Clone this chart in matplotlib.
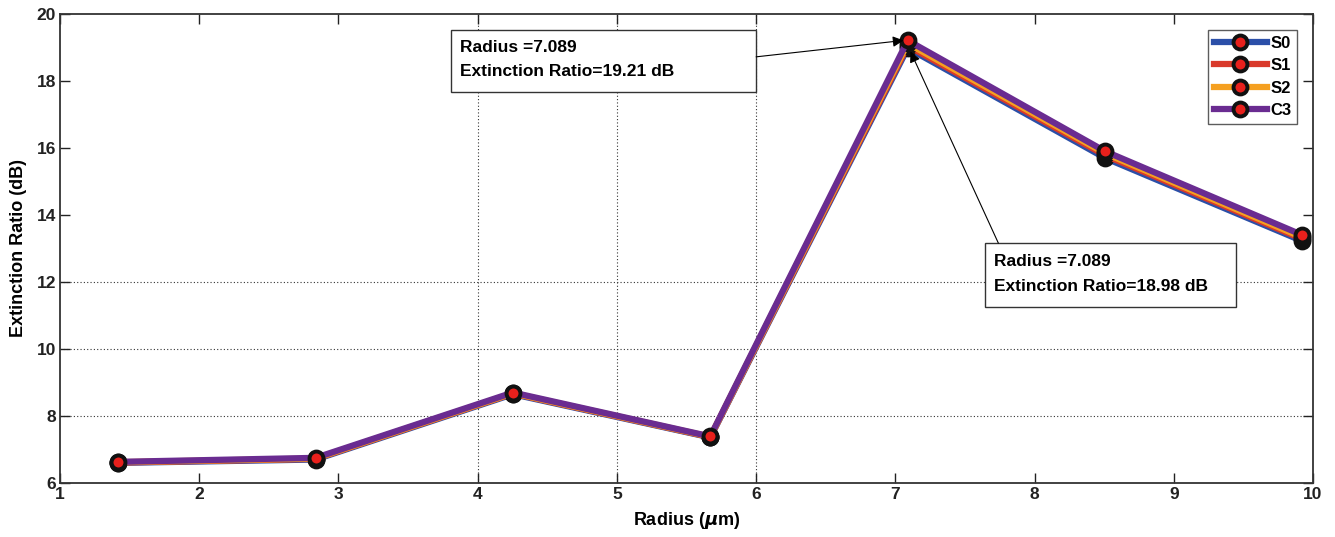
import matplotlib
matplotlib.use("Agg")
import matplotlib.pyplot as plt
from matplotlib.patches import Rectangle

radius = [1.418, 2.835, 4.253, 5.671, 7.089, 8.507, 9.924]
S0 = [6.60, 6.70, 8.65, 7.36, 18.98, 15.70, 13.22]
S1 = [6.61, 6.72, 8.67, 7.37, 19.05, 15.78, 13.28]
S2 = [6.62, 6.73, 8.68, 7.38, 19.12, 15.84, 13.33]
C3 = [6.63, 6.75, 8.70, 7.39, 19.21, 15.90, 13.40]
names = ["S0", "S1", "S2", "C3"]
colors = ["#2b4fa8", "#d93a2b", "#f5a020", "#6a2c91"]
xticks = [1, 2, 3, 4, 5, 6, 7, 8, 9, 10]
yticks = [6, 8, 10, 12, 14, 16, 18, 20]

plt.rcParams['font.family'] = ['Liberation Sans', 'DejaVu Sans']
plt.rcParams['font.weight'] = 'bold'

fig = plt.figure(figsize=(13.35, 5.37), dpi=100)
ax = fig.add_axes([0.045, 0.1006, 0.9385, 0.8734])

for name, vals, c in zip(names, [S0, S1, S2, C3], colors):
    ax.plot(radius, vals, color=c, lw=4.5, marker='o', markersize=10,
            markerfacecolor='#e8201c', markeredgecolor='#111111',
            markeredgewidth=2.8, label=name, zorder=3)

ax.set_xlim(1, 10)
ax.set_ylim(6, 20)
ax.set_xticks(xticks)
ax.set_yticks(yticks)
ax.tick_params(direction='in', length=7, width=1, top=True, right=True,
               labelsize=12.5, colors='#222222', pad=3)
for lab in ax.get_xticklabels() + ax.get_yticklabels():
    lab.set_fontweight('bold')
for s in ax.spines.values():
    s.set_linewidth(1.3)
    s.set_color('#333333')

# partial grid as in reference
for gx in [4, 5, 6]:
    ax.axvline(gx, color='#333333', ls=(0, (1, 2)), lw=0.8, zorder=1)
for gy in [8, 10, 12]:
    ax.axhline(gy, color='#333333', ls=(0, (1, 2)), lw=0.8, zorder=1)

ax.set_xlabel(r"Radius ($\mu$m)", fontsize=13, fontweight='bold', labelpad=6)
ax.set_ylabel("Extinction Ratio (dB)", fontsize=13, fontweight='bold', labelpad=7)

leg = ax.legend(loc='upper right', fontsize=12, frameon=True, fancybox=False,
                edgecolor='#333333', handlelength=3.2, borderpad=0.35,
                labelspacing=0.45, handletextpad=0.2, borderaxespad=0,
                bbox_to_anchor=(0.9875, 0.966))
leg.get_frame().set_linewidth(1.0)
for t in leg.get_texts():
    t.set_fontweight('bold')

# annotation 1
ax.add_patch(Rectangle((3.81, 17.67), 6.0 - 3.81, 19.52 - 17.67, fill=True,
                       facecolor='white', edgecolor='#333333', lw=1.0, zorder=4))
ax.text(3.87, 19.01, "Radius =7.089", fontsize=12.5, fontweight='bold', va='center', zorder=5)
ax.text(3.87, 18.28, "Extinction Ratio=19.21 dB", fontsize=12.5, fontweight='bold', va='center', zorder=5)
ax.annotate("", xy=(radius[4] - 0.03, C3[4]), xytext=(6.0, 18.72),
            arrowprops=dict(arrowstyle='-|>', color='black', lw=0.8,
                            mutation_scale=16, shrinkA=0, shrinkB=0), zorder=6)

# annotation 2
ax.add_patch(Rectangle((7.645, 11.25), 9.445 - 7.645, 13.16 - 11.25, fill=True,
                       facecolor='white', edgecolor='#333333', lw=1.0, zorder=4))
ax.text(7.71, 12.6, "Radius =7.089", fontsize=12.5, fontweight='bold', va='center', zorder=5)
ax.text(7.71, 11.85, "Extinction Ratio=18.98 dB", fontsize=12.5, fontweight='bold', va='center', zorder=5)
ax.annotate("", xy=(radius[4] + 0.02, S0[4] - 0.1), xytext=(7.74, 13.16),
            arrowprops=dict(arrowstyle='-|>', color='black', lw=0.8,
                            mutation_scale=16, shrinkA=0, shrinkB=0), zorder=6)

fig.savefig("out.png", dpi=100)
